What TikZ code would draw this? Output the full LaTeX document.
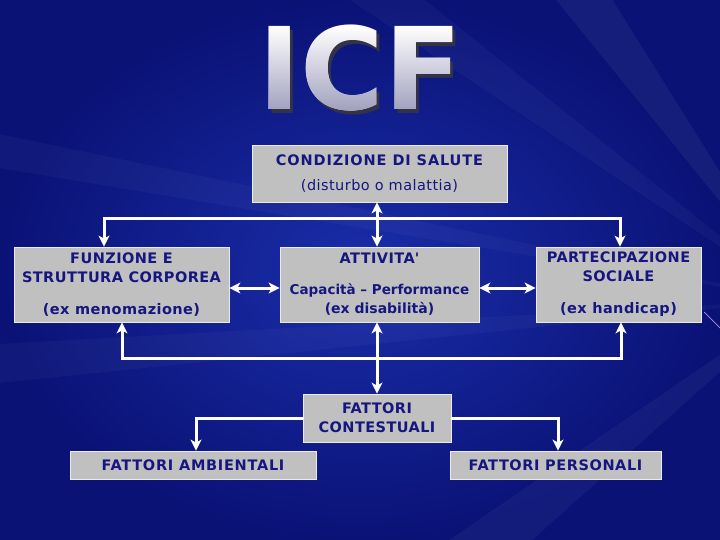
\documentclass[tikz,border=0pt]{standalone}
\usepackage{fontspec}
\setmainfont{DejaVu Sans}
\usetikzlibrary{arrows.meta}
\definecolor{navytext}{RGB}{22,22,128}
\definecolor{boxgray}{RGB}{192,192,192}
\definecolor{boxedge}{RGB}{235,235,240}
\definecolor{bgdark}{RGB}{10,18,118}
\definecolor{bgmid}{RGB}{26,46,170}
\definecolor{icfshadowc}{RGB}{50,50,72}
\definecolor{icfbottom}{RGB}{160,160,190}
\definecolor{pinkline}{RGB}{190,140,220}

\tikzset{
  box/.style={draw=boxedge, line width=0.8pt, fill=boxgray, text=navytext, align=center,
    inner sep=0pt, font=\fontsize{14.5}{19}\selectfont\bfseries\addfontfeature{LetterSpace=3}},
  conn/.style={draw=white, line width=3pt, line join=miter,
    >={Stealth[length=11pt,width=11pt,inset=3pt]}},
  streak/.style={fill=white, opacity=0.03},
  icffont/.style={font=\fontsize{114}{114}\selectfont\bfseries, anchor=base, inner sep=0pt}
}

\begin{document}
\begin{tikzpicture}[x=1pt,y=-1pt]
  \path[use as bounding box] (0,0) rectangle (720,540);
  % background
  \shade[inner color=bgmid, outer color=bgdark] (0,0) rectangle (720,540);
  \begin{scope}
    \clip (0,0) rectangle (720,540);
    \fill[streak] (800,300) -- (320,-20) -- (400,-20) -- cycle;
    \fill[streak, opacity=0.05] (800,300) -- (540,-20) -- (600,-20) -- cycle;
    \fill[streak] (800,300) -- (-20,130) -- (-20,165) -- cycle;
    \fill[streak] (800,300) -- (-20,345) -- (-20,385) -- cycle;
    \fill[streak, opacity=0.04] (800,300) -- (420,560) -- (510,560) -- cycle;
  \end{scope}
  \draw[pinkline, line width=0.7pt] (704,312) -- (721,329);

  % title: shadow, white letters, gradient laid on with darken blend
  \node[icffont, text=icfshadowc] (icfshadow) at (363.5,113.5) {ICF};
  \node[icffont, text=white] (icf) at (360,110) {ICF};
  \shade[top color=white, bottom color=icfbottom, blend mode=darken] (250,26) rectangle (470,111);

  % boxes
  \node[box, minimum width=255pt, minimum height=57pt] (cond) at (379.5,173.5)
    {\addfontfeature{LetterSpace=6}CONDIZIONE DI SALUTE\\[6pt]{\fontsize{14.5}{19}\selectfont\mdseries (disturbo o malattia)}};
  \node[box, minimum width=215pt, minimum height=75pt] (funz) at (121.5,284.5)
    {FUNZIONE E\\STRUTTURA CORPOREA\\[13pt](ex menomazione)};
  \node[box, minimum width=199pt, minimum height=75pt] (att) at (379.5,284.5)
    {ATTIVITA\textquotesingle\\[12pt]{\fontsize{13.5}{19}\selectfont\addfontfeature{LetterSpace=0}Capacità – Performance}\\{\fontsize{14}{19}\selectfont\addfontfeature{LetterSpace=0}(ex disabilità)}};
  \node[box, minimum width=165pt, minimum height=75pt] (part) at (618.5,284.5)
    {PARTECIPAZIONE\\SOCIALE\\[13pt](ex handicap)};
  \node[box, minimum width=148pt, minimum height=48pt] (cont) at (377,418)
    {FATTORI\\CONTESTUALI};
  \node[box, minimum width=246pt, minimum height=28pt] (amb) at (193,465)
    {\addfontfeature{LetterSpace=5}FATTORI AMBIENTALI};
  \node[box, minimum width=211pt, minimum height=28pt] (pers) at (555.5,465)
    {\addfontfeature{LetterSpace=4}FATTORI PERSONALI};

  % connectors
  \coordinate (ctopL) at (104,219);
  \coordinate (ctopR) at (620,219);
  \coordinate (cbotL) at (122,358);
  \coordinate (cbotR) at (621,358);
  \coordinate (ka) at (196,418);
  \coordinate (kb) at (558,418);

  \draw[conn,<->] ([xshift=-2.5pt]cond.south) -- ([xshift=-2.5pt]att.north);
  \draw[conn,<->] (ctopL |- funz.north) -- (ctopL) -- (ctopR) -- (ctopR |- part.north);
  \draw[conn,<->] ([yshift=-3.5pt]funz.east) -- ([yshift=-3.5pt]att.west);
  \draw[conn,<->] ([yshift=-3.5pt]att.east) -- ([yshift=-3.5pt]part.west);
  \draw[conn,<->] (cbotL |- funz.south) -- (cbotL) -- (cbotR) -- (cbotR |- part.south);
  \draw[conn,<->] ([xshift=-2.5pt]att.south) -- (cont.north);
  \draw[conn,->] (cont.west) -- (ka) -- (ka |- amb.north);
  \draw[conn,->] (cont.east) -- (kb) -- (kb |- pers.north);
\end{tikzpicture}
\end{document}
